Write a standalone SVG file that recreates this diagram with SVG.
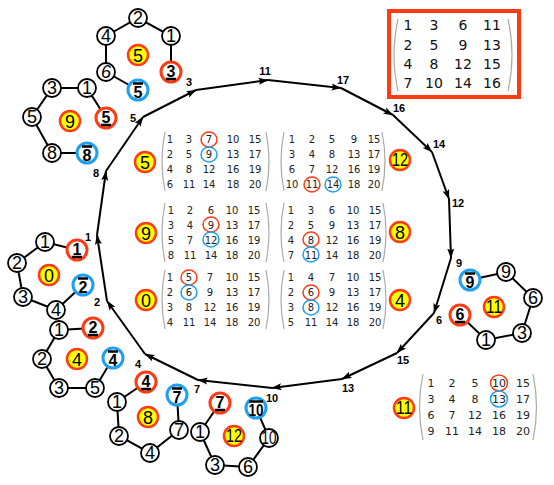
<svg xmlns="http://www.w3.org/2000/svg" width="554" height="485" viewBox="0 0 554 485">
<style>
.e{stroke:#000;stroke-width:2;fill:none}
.a{stroke:#000;stroke-width:2;fill:none;marker-end:url(#ah)}
.n{fill:#fff;stroke:#000;stroke-width:1.8}
.r{fill:#fff;stroke:#ff3b14;stroke-width:3}
.b{fill:#fff;stroke:#1f9ff0;stroke-width:3}
.y{fill:#ffff00;stroke:#ff3b14;stroke-width:2.5}
.t{font-family:"Liberation Sans",Arial,sans-serif;font-size:18px;text-anchor:middle;fill:#000}
.tb{font-family:"Liberation Sans",Arial,sans-serif;font-size:16px;font-weight:bold;text-anchor:middle;fill:#000}
.bar{stroke:#000;stroke-width:2.5}
.cl{font-family:"Liberation Sans",Arial,sans-serif;font-size:11px;font-weight:bold;text-anchor:middle;fill:#000}
.m{font-family:"DejaVu Sans",sans-serif;font-size:10px;text-anchor:middle;fill:#222}
.m7{font-family:"DejaVu Sans",sans-serif;font-size:11px;text-anchor:middle;fill:#222}
.mt{font-family:"DejaVu Sans",sans-serif;font-size:14px;text-anchor:middle;fill:#111}
.p{fill:none;stroke:#aaa;stroke-width:1.2}
.hr{fill:none;stroke:#ff3b14;stroke-width:1.5}
.hb{fill:none;stroke:#1f9ff0;stroke-width:1.5}
</style>
<defs>
<marker id="ah" markerWidth="10" markerHeight="8" refX="9.5" refY="4" orient="auto" markerUnits="userSpaceOnUse">
<path d="M0,0.5 L10,4 L0,7.5 L2,4 z" fill="#000"/>
</marker>
</defs>
<rect width="554" height="485" fill="#fff"/>

<g id="connectors">
<g id="cycle">
<line class="a" x1="97" y1="235" x2="106" y2="171"/>
<line class="a" x1="106" y1="171" x2="143" y2="117"/>
<line class="a" x1="143" y1="117" x2="196" y2="90"/>
<line class="a" x1="196" y1="90" x2="268" y2="80"/>
<line class="a" x1="268" y1="80" x2="341" y2="88"/>
<line class="a" x1="341" y1="88" x2="393" y2="115"/>
<line class="a" x1="393" y1="115" x2="432" y2="152"/>
<line class="a" x1="432" y1="152" x2="449" y2="199"/>
<line class="a" x1="449" y1="199" x2="451" y2="258"/>
<line class="a" x1="451" y1="258" x2="434" y2="313"/>
<line class="a" x1="434" y1="313" x2="397" y2="353"/>
<line class="a" x1="397" y1="353" x2="342" y2="379"/>
<line class="a" x1="342" y1="379" x2="272" y2="388"/>
<line class="a" x1="272" y1="388" x2="198" y2="380"/>
<line class="a" x1="198" y1="380" x2="145" y2="354"/>
<line class="a" x1="145" y1="354" x2="107" y2="301"/>
<line class="a" x1="107" y1="301" x2="97" y2="235"/>
</g>
<g id="edges">
<path class="e" d="M106,36L138,18L171,36L171,72 M106,36L106,72L138,90"/>
<path class="e" d="M106,118L87,88L52,88L32,117L52,153L87,153"/>
<path class="e" d="M77,250L45,242L17,263L23,297L56,310L83,285"/>
<path class="e" d="M93,328L59,330L42,359L59,388L95,388L113,358"/>
<path class="e" d="M146,382L117,402L119,436L150,453L179,430L177,395"/>
<path class="e" d="M220,403L200,432L215,465L248,467L269,438L256,408"/>
<path class="e" d="M470,280L506,272L533,298L522,333L486,340L460,315"/>
</g>
</g>

<g id="cycle-labels">
<text class="cl" x="88" y="241">1</text>
<text class="cl" x="96" y="177">8</text>
<text class="cl" x="133" y="122">5</text>
<text class="cl" x="189" y="86">3</text>
<text class="cl" x="265" y="75">11</text>
<text class="cl" x="343" y="84">17</text>
<text class="cl" x="399" y="112">16</text>
<text class="cl" x="439" y="148">14</text>
<text class="cl" x="458" y="207">12</text>
<text class="cl" x="459" y="267">9</text>
<text class="cl" x="439" y="324">6</text>
<text class="cl" x="403" y="364">15</text>
<text class="cl" x="348" y="392">13</text>
<text class="cl" x="272" y="402">10</text>
<text class="cl" x="197" y="393">7</text>
<text class="cl" x="138" y="368">4</text>
<text class="cl" x="97" y="306">2</text>
</g>

<!-- cluster A (face 5) -->
<g id="a2"><circle class="n" cx="138" cy="18" r="9"/><text class="t" x="138" y="24.4">2</text></g>
<g id="a1"><circle class="n" cx="171" cy="36" r="9"/><text class="t" x="171" y="42.4">1</text></g>
<g id="a4"><circle class="n" cx="106" cy="36" r="9"/><text class="t" x="106" y="42.4">4</text></g>
<g id="a6"><circle class="n" cx="106" cy="72" r="9"/><text class="t" x="106" y="78.4" font-style="italic">6</text></g>
<g id="a3r"><circle class="r" cx="171" cy="72" r="10"/><text class="tb" x="171" y="76.5">3</text><line class="bar" x1="166" y1="79" x2="176" y2="79"/></g>
<g id="a5b"><circle class="b" cx="138" cy="90" r="10"/><text class="tb" x="138" y="98">5</text><line class="bar" x1="133" y1="83.5" x2="143" y2="83.5"/></g>
<g id="a-face"><circle class="y" cx="138" cy="55" r="10"/><text class="t" x="138" y="61.5">5</text></g>

<!-- cluster B (face 9) -->
<g id="b3"><circle class="n" cx="52" cy="88" r="9"/><text class="t" x="52" y="94.4">3</text></g>
<g id="b1"><circle class="n" cx="87" cy="88" r="9"/><text class="t" x="87" y="94.4">1</text></g>
<g id="b5"><circle class="n" cx="32" cy="117" r="9"/><text class="t" x="32" y="123.4">5</text></g>
<g id="b8"><circle class="n" cx="52" cy="153" r="9"/><text class="t" x="52" y="159.4">8</text></g>
<g id="b5r"><circle class="r" cx="106" cy="118" r="10"/><text class="tb" x="106" y="122.5">5</text><line class="bar" x1="101" y1="125" x2="111" y2="125"/></g>
<g id="b8b"><circle class="b" cx="87" cy="153" r="10"/><text class="tb" x="87" y="161">8</text><line class="bar" x1="82" y1="146.5" x2="92" y2="146.5"/></g>
<g id="b-face"><circle class="y" cx="70" cy="121" r="10"/><text class="t" x="70" y="127.5">9</text></g>

<!-- cluster C (face 0) -->
<g id="c1"><circle class="n" cx="45" cy="242" r="9"/><text class="t" x="45" y="248.4">1</text></g>
<g id="c2"><circle class="n" cx="17" cy="263" r="9"/><text class="t" x="17" y="269.4">2</text></g>
<g id="c3"><circle class="n" cx="23" cy="297" r="9"/><text class="t" x="23" y="303.4">3</text></g>
<g id="c4"><circle class="n" cx="56" cy="310" r="9"/><text class="t" x="56" y="316.4">4</text></g>
<g id="c1r"><circle class="r" cx="77" cy="250" r="10"/><text class="tb" x="77" y="254.5">1</text><line class="bar" x1="72" y1="257" x2="82" y2="257"/></g>
<g id="c2b"><circle class="b" cx="83" cy="285" r="10"/><text class="tb" x="83" y="293">2</text><line class="bar" x1="78" y1="278.5" x2="88" y2="278.5"/></g>
<g id="c-face"><circle class="y" cx="49" cy="275" r="10"/><text class="t" x="49" y="281.5">0</text></g>

<!-- cluster D (face 4) -->
<g id="d1"><circle class="n" cx="59" cy="330" r="9"/><text class="t" x="59" y="336.4">1</text></g>
<g id="d2"><circle class="n" cx="42" cy="359" r="9"/><text class="t" x="42" y="365.4">2</text></g>
<g id="d3"><circle class="n" cx="59" cy="388" r="9"/><text class="t" x="59" y="394.4">3</text></g>
<g id="d5"><circle class="n" cx="95" cy="388" r="9"/><text class="t" x="95" y="394.4">5</text></g>
<g id="d2r"><circle class="r" cx="93" cy="328" r="10"/><text class="tb" x="93" y="332.5">2</text><line class="bar" x1="88" y1="335" x2="98" y2="335"/></g>
<g id="d4b"><circle class="b" cx="113" cy="358" r="10"/><text class="tb" x="113" y="366">4</text><line class="bar" x1="108" y1="351.5" x2="118" y2="351.5"/></g>
<g id="d-face"><circle class="y" cx="77" cy="359" r="10"/><text class="t" x="77" y="365.5">4</text></g>

<!-- cluster E (face 8) -->
<g id="e4r"><circle class="r" cx="146" cy="382" r="10"/><text class="tb" x="146" y="386.5">4</text><line class="bar" x1="141" y1="389" x2="151" y2="389"/></g>
<g id="e1"><circle class="n" cx="117" cy="402" r="9"/><text class="t" x="117" y="408.4">1</text></g>
<g id="e2"><circle class="n" cx="119" cy="436" r="9"/><text class="t" x="119" y="442.4">2</text></g>
<g id="e4"><circle class="n" cx="150" cy="453" r="9"/><text class="t" x="150" y="459.4">4</text></g>
<g id="e7"><circle class="n" cx="179" cy="430" r="9"/><text class="t" x="179" y="436.4">7</text></g>
<g id="e7b"><circle class="b" cx="177" cy="395" r="10"/><text class="tb" x="177" y="403">7</text><line class="bar" x1="172" y1="388.5" x2="182" y2="388.5"/></g>
<g id="e-face"><circle class="y" cx="148" cy="417" r="10"/><text class="t" x="148" y="423.5">8</text></g>

<!-- cluster F (face 12) -->
<g id="f7r"><circle class="r" cx="220" cy="403" r="10"/><text class="tb" x="220" y="407.5">7</text><line class="bar" x1="215" y1="410" x2="225" y2="410"/></g>
<g id="f1"><circle class="n" cx="200" cy="432" r="9"/><text class="t" x="200" y="438.4">1</text></g>
<g id="f3"><circle class="n" cx="215" cy="465" r="9"/><text class="t" x="215" y="471.4">3</text></g>
<g id="f6"><circle class="n" cx="248" cy="467" r="9"/><text class="t" x="248" y="473.4">6</text></g>
<g id="f10"><circle class="n" cx="269" cy="438" r="9"/><text class="t" x="269" y="444.4" textLength="15" lengthAdjust="spacingAndGlyphs">10</text></g>
<g id="f10b"><circle class="b" cx="256" cy="408" r="10"/><text class="tb" x="256" y="416" textLength="15" lengthAdjust="spacingAndGlyphs">10</text><line class="bar" x1="249" y1="401.5" x2="263" y2="401.5"/></g>
<g id="f-face"><circle class="y" cx="234" cy="436" r="10"/><text class="t" x="234" y="442" textLength="16" lengthAdjust="spacingAndGlyphs">12</text></g>

<!-- cluster G (face 11) -->
<g id="g9b"><circle class="b" cx="470" cy="280" r="10"/><text class="tb" x="470" y="288">9</text><line class="bar" x1="465" y1="273.5" x2="475" y2="273.5"/></g>
<g id="g9"><circle class="n" cx="506" cy="272" r="9"/><text class="t" x="506" y="278.4">9</text></g>
<g id="g6"><circle class="n" cx="533" cy="298" r="9"/><text class="t" x="533" y="304.4">6</text></g>
<g id="g3"><circle class="n" cx="522" cy="333" r="9"/><text class="t" x="522" y="339.4">3</text></g>
<g id="g1"><circle class="n" cx="486" cy="340" r="9"/><text class="t" x="486" y="346.4">1</text></g>
<g id="g6r"><circle class="r" cx="460" cy="315" r="10"/><text class="tb" x="460" y="319.5">6</text><line class="bar" x1="455" y1="322" x2="465" y2="322"/></g>
<g id="g-face"><circle class="y" cx="494" cy="307" r="10"/><text class="t" x="494" y="313" textLength="16" lengthAdjust="spacingAndGlyphs">11</text></g>

<!-- matrix face 5 -->
<g id="m5">
<circle class="y" cx="145" cy="162" r="10"/><text class="t" x="145" y="168.5">5</text>
<path class="p" d="M165,132 Q159,161.5 165,191"/><path class="p" d="M266,132 Q272,161.5 266,191"/>
<ellipse class="hr" cx="209" cy="139.5" rx="8" ry="7.5"/><ellipse class="hb" cx="209" cy="154.5" rx="8" ry="7.5"/>
<text class="m" y="143"><tspan x="170">1</tspan><tspan x="189">3</tspan><tspan x="209">7</tspan><tspan x="233">10</tspan><tspan x="255">15</tspan></text>
<text class="m" y="158"><tspan x="170">2</tspan><tspan x="189">5</tspan><tspan x="209">9</tspan><tspan x="233">13</tspan><tspan x="255">17</tspan></text>
<text class="m" y="173"><tspan x="170">4</tspan><tspan x="189">8</tspan><tspan x="209">12</tspan><tspan x="233">16</tspan><tspan x="255">19</tspan></text>
<text class="m" y="188"><tspan x="170">6</tspan><tspan x="189">11</tspan><tspan x="209">14</tspan><tspan x="233">18</tspan><tspan x="255">20</tspan></text>
</g>

<!-- matrix face 12 -->
<g id="m12">
<circle class="y" cx="400" cy="160" r="10"/><text class="t" x="400" y="166" textLength="16" lengthAdjust="spacingAndGlyphs">12</text>
<path class="p" d="M284,132 Q278,161.5 284,191"/><path class="p" d="M382,132 Q388,161.5 382,191"/>
<ellipse class="hr" cx="312" cy="184.5" rx="8" ry="7.5"/><ellipse class="hb" cx="333" cy="184.5" rx="8" ry="7.5"/>
<text class="m" y="143"><tspan x="292">1</tspan><tspan x="312">2</tspan><tspan x="332">5</tspan><tspan x="354">9</tspan><tspan x="374">15</tspan></text>
<text class="m" y="158"><tspan x="292">3</tspan><tspan x="312">4</tspan><tspan x="332">8</tspan><tspan x="354">13</tspan><tspan x="374">17</tspan></text>
<text class="m" y="173"><tspan x="292">6</tspan><tspan x="312">7</tspan><tspan x="332">12</tspan><tspan x="354">16</tspan><tspan x="374">19</tspan></text>
<text class="m" y="188"><tspan x="292">10</tspan><tspan x="312">11</tspan><tspan x="333">14</tspan><tspan x="354">18</tspan><tspan x="374">20</tspan></text>
</g>

<!-- matrix face 9 -->
<g id="m9">
<circle class="y" cx="146" cy="233" r="10"/><text class="t" x="146" y="239.5">9</text>
<path class="p" d="M165,203 Q159,232.5 165,262"/><path class="p" d="M266,203 Q272,232.5 266,262"/>
<ellipse class="hr" cx="211" cy="224.5" rx="8" ry="7.5"/><ellipse class="hb" cx="211" cy="239.5" rx="8" ry="7.5"/>
<text class="m" y="214"><tspan x="171">1</tspan><tspan x="190">2</tspan><tspan x="211">6</tspan><tspan x="232">10</tspan><tspan x="254">15</tspan></text>
<text class="m" y="228.5"><tspan x="171">3</tspan><tspan x="190">4</tspan><tspan x="211">9</tspan><tspan x="232">13</tspan><tspan x="254">17</tspan></text>
<text class="m" y="243.5"><tspan x="171">5</tspan><tspan x="190">7</tspan><tspan x="211">12</tspan><tspan x="232">16</tspan><tspan x="254">19</tspan></text>
<text class="m" y="258.5"><tspan x="171">8</tspan><tspan x="190">11</tspan><tspan x="211">14</tspan><tspan x="232">18</tspan><tspan x="254">20</tspan></text>
</g>

<!-- matrix face 8 -->
<g id="m8">
<circle class="y" cx="400" cy="232" r="10"/><text class="t" x="400" y="238.5">8</text>
<path class="p" d="M284,203 Q278,232.5 284,262"/><path class="p" d="M383,203 Q389,232.5 383,262"/>
<ellipse class="hr" cx="311" cy="239.5" rx="8" ry="7.5"/><ellipse class="hb" cx="311" cy="254.5" rx="8" ry="7.5"/>
<text class="m" y="214"><tspan x="291">1</tspan><tspan x="311">3</tspan><tspan x="332">6</tspan><tspan x="353">10</tspan><tspan x="375">15</tspan></text>
<text class="m" y="228.5"><tspan x="291">2</tspan><tspan x="311">5</tspan><tspan x="332">9</tspan><tspan x="353">13</tspan><tspan x="375">17</tspan></text>
<text class="m" y="243.5"><tspan x="291">4</tspan><tspan x="311">8</tspan><tspan x="332">12</tspan><tspan x="353">16</tspan><tspan x="375">19</tspan></text>
<text class="m" y="258.5"><tspan x="291">7</tspan><tspan x="311">11</tspan><tspan x="332">14</tspan><tspan x="353">18</tspan><tspan x="375">20</tspan></text>
</g>

<!-- matrix face 0 -->
<g id="m0">
<circle class="y" cx="146" cy="300" r="10"/><text class="t" x="146" y="306.5">0</text>
<path class="p" d="M165,270 Q159,299.5 165,329"/><path class="p" d="M266,270 Q272,299.5 266,329"/>
<ellipse class="hr" cx="189" cy="277.5" rx="8" ry="7.5"/><ellipse class="hb" cx="189" cy="292.5" rx="8" ry="7.5"/>
<text class="m" y="281"><tspan x="170">1</tspan><tspan x="189">5</tspan><tspan x="210">7</tspan><tspan x="232">10</tspan><tspan x="254">15</tspan></text>
<text class="m" y="296"><tspan x="170">2</tspan><tspan x="189">6</tspan><tspan x="210">9</tspan><tspan x="232">13</tspan><tspan x="254">17</tspan></text>
<text class="m" y="311"><tspan x="170">3</tspan><tspan x="189">8</tspan><tspan x="210">12</tspan><tspan x="232">16</tspan><tspan x="254">19</tspan></text>
<text class="m" y="326"><tspan x="170">4</tspan><tspan x="189">11</tspan><tspan x="210">14</tspan><tspan x="232">18</tspan><tspan x="254">20</tspan></text>
</g>

<!-- matrix face 4 -->
<g id="m4">
<circle class="y" cx="400" cy="300" r="10"/><text class="t" x="400" y="306.5">4</text>
<path class="p" d="M284,270 Q278,299.5 284,329"/><path class="p" d="M383,270 Q389,299.5 383,329"/>
<ellipse class="hr" cx="311" cy="292.5" rx="8" ry="7.5"/><ellipse class="hb" cx="311" cy="307.5" rx="8" ry="7.5"/>
<text class="m" y="281"><tspan x="291">1</tspan><tspan x="311">4</tspan><tspan x="332">7</tspan><tspan x="353">10</tspan><tspan x="375">15</tspan></text>
<text class="m" y="296"><tspan x="291">2</tspan><tspan x="311">6</tspan><tspan x="332">9</tspan><tspan x="353">13</tspan><tspan x="375">17</tspan></text>
<text class="m" y="311"><tspan x="291">3</tspan><tspan x="311">8</tspan><tspan x="332">12</tspan><tspan x="353">16</tspan><tspan x="375">19</tspan></text>
<text class="m" y="326"><tspan x="291">5</tspan><tspan x="311">11</tspan><tspan x="332">14</tspan><tspan x="353">18</tspan><tspan x="375">20</tspan></text>
</g>

<!-- matrix face 11 -->
<g id="m11">
<circle class="y" cx="404" cy="408" r="10"/><text class="t" x="404" y="414" textLength="16" lengthAdjust="spacingAndGlyphs">11</text>
<path class="p" d="M423,374 Q416,407 423,440"/><path class="p" d="M533,374 Q540,407 533,440"/>
<ellipse class="hr" cx="499" cy="383" rx="8.5" ry="8"/><ellipse class="hb" cx="499" cy="399" rx="8.5" ry="8"/>
<text class="m7" y="387"><tspan x="431">1</tspan><tspan x="452">2</tspan><tspan x="475">5</tspan><tspan x="499">10</tspan><tspan x="523">15</tspan></text>
<text class="m7" y="403"><tspan x="431">3</tspan><tspan x="452">4</tspan><tspan x="475">8</tspan><tspan x="499">13</tspan><tspan x="523">17</tspan></text>
<text class="m7" y="419"><tspan x="431">6</tspan><tspan x="452">7</tspan><tspan x="475">12</tspan><tspan x="499">16</tspan><tspan x="523">19</tspan></text>
<text class="m7" y="435"><tspan x="431">9</tspan><tspan x="452">11</tspan><tspan x="475">14</tspan><tspan x="499">18</tspan><tspan x="523">20</tspan></text>
</g>

<!-- top-right matrix -->
<g id="mtop">
<rect x="389" y="11" width="130" height="86" fill="#fff" stroke="#ff3b14" stroke-width="4"/>
<path class="p" d="M398,19 Q390,55 398,91"/><path class="p" d="M508,19 Q516,55 508,91"/>
<text class="mt" y="30"><tspan x="408">1</tspan><tspan x="434">3</tspan><tspan x="463">6</tspan><tspan x="492">11</tspan></text>
<text class="mt" y="50"><tspan x="408">2</tspan><tspan x="434">5</tspan><tspan x="463">9</tspan><tspan x="492">13</tspan></text>
<text class="mt" y="69"><tspan x="408">4</tspan><tspan x="434">8</tspan><tspan x="463">12</tspan><tspan x="492">15</tspan></text>
<text class="mt" y="88"><tspan x="408">7</tspan><tspan x="434">10</tspan><tspan x="463">14</tspan><tspan x="492">16</tspan></text>
</g>
</svg>
